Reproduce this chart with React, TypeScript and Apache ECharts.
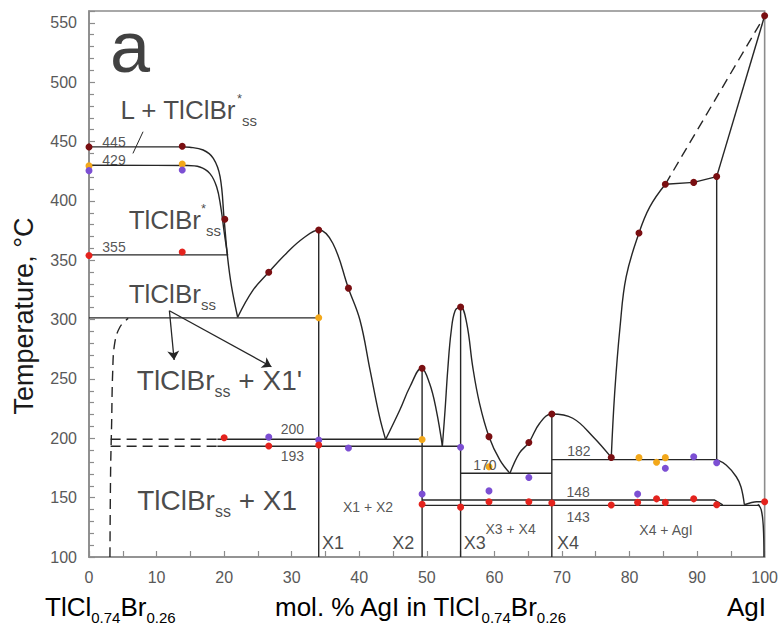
import React, { useEffect, useRef } from 'react';
import * as echarts from 'echarts';

const FONT = '"Liberation Sans", Arial, Helvetica, sans-serif';
const LINE = '#262626';
const AXIS = '#8c8c8c';

// ---- axis ticks ----
const xTicks = [0, 10, 20, 30, 40, 50, 60, 70, 80, 90, 100];
const yTicks = [100, 150, 200, 250, 300, 350, 400, 450, 500, 550];

// ---- boundary curves (mol.% AgI, °C) ----
const upperCurve = [[0, 445.5], [13.8, 445.5], [14.9, 445.2], [16.9, 442.9], [18.4, 435.9], [19.4, 420.4], [20.0, 384.5], [20.5, 353], [21.1, 327.7], [22.0, 302]];
const lowerCurve = [[0, 430], [14.5, 429.8], [16.4, 428.6], [17.9, 423], [18.9, 411.7], [19.5, 395], [20.0, 374], [20.5, 354.5]];
const line355 = [[0, 354.5], [20.6, 354.5]];
const line301 = [[0, 301.5], [34, 301.5]];
const domeX1 = [[22, 302], [24.3, 325], [26.6, 339.9], [29.2, 355.8], [31.7, 368.5], [34, 375.5], [36.1, 364.1], [38.4, 326.3], [40.1, 299.7], [41.6, 257.5], [43.0, 218.2], [43.9, 199]];
const domeX2 = [[43.9, 199], [46.0, 223.8], [47.5, 243.4], [49.2, 259], [50.4, 246.3], [51.4, 223.8], [52.3, 193.5]];
const domeX3 = [[52.3, 193.5], [52.7, 223.8], [53.1, 258], [53.6, 290], [54.2, 307.7], [55.0, 310.6], [55.9, 297], [56.8, 260], [57.8, 229.5], [59.2, 201.4], [60.8, 181.8], [62.3, 170.5]];
const domeX4 = [[62.3, 170.5], [63.7, 187.5], [65.1, 196.4], [66.7, 212.7], [68.5, 220.5], [71.6, 216.9], [74.6, 201.4], [77.3, 183.9]];
const agiLiquidus = [[77.3, 183.9], [77.8, 238], [78.6, 294], [79.5, 336], [81.4, 373], [83.0, 395], [85.3, 414]];
const line415 = [[85.3, 414], [89.5, 415.6], [92.9, 420.5]];
const lineTop = [[92.9, 420.5], [100, 556]];
const dashTop = [[85.3, 414], [100, 556]];
const vertX1 = [[34, 375.5], [34, 100]];
const vertX2 = [[49.3, 259], [49.3, 100]];
const vertX3 = [[55, 310.6], [55, 100]];
const vertX4 = [[68.5, 220.5], [68.5, 100]];
const vert93 = [[92.9, 420.5], [92.9, 182]];
const line200 = [[19, 199.2], [49.3, 199.2]];
const dash200 = [[3.2, 199.2], [19, 199.2]];
const line193 = [[19, 193.3], [55, 193.3]];
const dash193 = [[3.2, 193.3], [19, 193.3]];
const line182 = [[68.5, 182], [92.9, 182]];
const curve182 = [[92.9, 182], [94.3, 177.5], [95.8, 167.6], [96.5, 159], [97.0, 144]];
const line170 = [[55, 170.5], [68.5, 170.5]];
const line148 = [[49.3, 148], [92.6, 148], [93.8, 144]];
const line143 = [[49.3, 143.5], [99.3, 143.5]];
const rise146 = [[97.0, 144], [98.8, 146.6], [100, 146.6]];
const agiSolvus = [[99.0, 144.4], [99.5, 139.6], [99.8, 125.5], [99.9, 100]];
const dashSolvus = [[3.1, 100], [3.2, 173], [3.35, 212.6], [3.5, 254.7], [3.8, 280], [4.6, 294], [5.8, 301]];
const leader = [[8.0, 458.3], [6.5, 440]];
const arrows = [[[11.9, 307.5], [12.6, 266]], [[11.9, 307.5], [27.0, 260.3]]];

// ---- experimental points ----
const darkRedPts = [[0, 445.5], [13.8, 446], [20.1, 384.5], [26.6, 339.9], [34, 375.5], [38.4, 326.5], [49.3, 259], [55, 310.6], [59.2, 201.4], [65.1, 196.4], [68.5, 220.5], [77.3, 183.9], [81.4, 373], [85.3, 414], [89.5, 415.6], [92.9, 420.5], [100, 556]];
const orangePts = [[0, 429.5], [13.8, 431], [34, 301.5], [49.3, 199], [59.2, 176], [81.4, 183.7], [84.0, 179.8], [85.3, 183.7]];
const purplePts = [[0, 425.5], [13.8, 426], [26.6, 201], [34, 198.6], [38.4, 191.8], [55, 192.5], [49.3, 153], [59.2, 155.7], [65.1, 167], [81.2, 153], [85.3, 174.7], [89.5, 184.5], [92.9, 179.4]];
const redPts = [[0, 354], [13.8, 357], [20, 200.5], [26.6, 193.5], [34, 194.3], [49.3, 144.5], [55, 142], [59.2, 146.5], [65.1, 146.5], [68.5, 145.5], [77.3, 143.8], [81.2, 146], [84, 149], [85.3, 146], [89.5, 149], [92.9, 144], [100, 146.6]];

// ---- annotations [text, x, y] ----
const smallLabels: [string, number, number][] = [
  ['445', 3.7, 449.8], ['429', 3.7, 434.5], ['355', 3.7, 361], ['200', 30.1, 208], ['193', 30.1, 185],
  ['170', 58.6, 177.5], ['182', 72.5, 189.5], ['148', 72.4, 154.5], ['143', 72.4, 133.5],
  ['X1 + X2', 41.3, 142], ['X3 + X4', 62.4, 124], ['X4 + AgI', 85.4, 123],
];
const phaseLabels: [string, number, number][] = [['X1', 36.1, 112], ['X2', 46.5, 112], ['X3', 57.1, 112], ['X4', 70.9, 112]];
const bigLabels: [string, number, number, number][] = [
  ['{m|L + TlClBr}{sp|*}{sb|ss}', 4.6, 476.6, 26],
  ['{m|TlClBr}{sp|*}{sb|ss}', 5.8, 384, 26],
  ['{m|TlClBr}{sb|ss}', 5.8, 321.6, 26],
  ["{m|TlClBr}{sb|ss}{m| + X1'}", 7.0, 249, 28],
  ['{m|TlClBr}{sb|ss}{m| + X1}', 7.05, 147.3, 28],
];
const panelLabel: [string, number, number] = ['a', 6.06, 529.5];

function richFor(S: number) {
  return {
    m: { fontSize: S, lineHeight: S + 10, color: '#1a1a1a', fontFamily: FONT },
    sb: { fontSize: Math.round(S * 0.58), lineHeight: Math.round(S * 0.58), verticalAlign: 'bottom', color: '#1a1a1a', fontFamily: FONT },
    sp: { fontSize: Math.round(S * 0.5), lineHeight: Math.round(S * 0.5), verticalAlign: 'top', color: '#1a1a1a', fontFamily: FONT },
  };
}

const ln = (data: number[][], opt: { smooth?: number; dash?: boolean; width?: number } = {}) => ({
  type: 'line',
  data,
  symbol: 'none',
  showSymbol: false,
  clip: false,
  silent: true,
  smooth: opt.smooth ?? false,
  lineStyle: { color: LINE, width: opt.width ?? 1.4, type: opt.dash ? [10, 6] : 'solid' },
  z: 2,
});

const pts = (data: number[][], color: string) => ({
  type: 'scatter',
  data,
  symbolSize: 7,
  clip: false,
  silent: true,
  itemStyle: { color, opacity: 1 },
  z: 5,
});

export default function App() {
  const ref = useRef<HTMLDivElement>(null);
  useEffect(() => {
    const chart = echarts.init(ref.current!, null, { renderer: 'svg' });

    const labelData: any[] = [];
    smallLabels.forEach(([t, x, y]) =>
      labelData.push({ value: [x, y], label: { show: true, position: 'inside', formatter: t, fontSize: 14, color: '#2a2a2a', fontFamily: FONT } })
    );
    phaseLabels.forEach(([t, x, y]) =>
      labelData.push({ value: [x, y], label: { show: true, position: 'inside', formatter: t, fontSize: 18, color: '#1a1a1a', fontFamily: FONT } })
    );
    bigLabels.forEach(([t, x, y, s]) =>
      labelData.push({ value: [x, y], label: { show: true, position: 'right', distance: 0, formatter: t, rich: richFor(s) } })
    );
    labelData.push({ value: [panelLabel[1], panelLabel[2]], label: { show: true, position: 'inside', formatter: panelLabel[0], fontSize: 72, color: '#111', fontFamily: FONT } });

    const axRich = richFor(26);

    const option: any = {
      animation: false,
      textStyle: { fontFamily: FONT },
      grid: { left: 89, right: 16, top: 11, bottom: 75, show: true, borderColor: AXIS, borderWidth: 1.6, backgroundColor: 'transparent' },
      xAxis: {
        type: 'value', min: xTicks[0], max: xTicks[xTicks.length - 1], interval: 10,
        axisLine: { show: true, lineStyle: { color: AXIS, width: 1.6 } },
        axisTick: { show: true, inside: true, length: 6, lineStyle: { color: AXIS, width: 1.2 } },
        minorTick: { show: true, splitNumber: 2, length: 6, lineStyle: { color: AXIS, width: 1.2 } },
        axisLabel: { fontSize: 16, color: '#595959', margin: 12, fontFamily: FONT, formatter: (v: number) => (xTicks.includes(v) ? String(v) : '') },
        splitLine: { show: false },
      },
      yAxis: {
        type: 'value', min: 100, max: 560, interval: 50,
        axisLine: { show: true, lineStyle: { color: AXIS, width: 1.6 } },
        axisTick: { show: true, inside: true, length: 6, lineStyle: { color: AXIS, width: 1.2 } },
        minorTick: { show: true, splitNumber: 5, length: 5, lineStyle: { color: AXIS, width: 1.2 } },
        axisLabel: { fontSize: 16, color: '#595959', margin: 12, fontFamily: FONT, formatter: (v: number) => (yTicks.includes(v) ? String(v) : '') },
        splitLine: { show: false },
      },
      graphic: [
        { type: 'text', x: 24, y: 316, rotation: Math.PI / 2, style: { text: 'Temperature, °C', fontSize: 27, fontFamily: FONT, fill: '#1a1a1a', align: 'center', verticalAlign: 'middle' } },
        { type: 'text', x: 45, y: 607, style: { text: '{m|TlCl}{sb|0.74}{m|Br}{sb|0.26}', rich: axRich, align: 'left', verticalAlign: 'middle' } },
        { type: 'text', x: 275, y: 607, style: { text: '{m|mol. % AgI in TlCl}{sb|0.74}{m|Br}{sb|0.26}', rich: axRich, align: 'left', verticalAlign: 'middle' } },
        { type: 'text', x: 727, y: 607, style: { text: '{m|AgI}', rich: axRich, align: 'left', verticalAlign: 'middle' } },
      ],
      series: [
        ln(upperCurve, { smooth: 0.4 }),
        ln(lowerCurve, { smooth: 0.4 }),
        ln(line355), ln(line301),
        ln(domeX1, { smooth: 0.4 }), ln(domeX2, { smooth: 0.4 }), ln(domeX3, { smooth: 0.4 }), ln(domeX4, { smooth: 0.4 }),
        ln(agiLiquidus, { smooth: 0.4 }),
        ln(line415), ln(lineTop), ln(dashTop, { dash: true }),
        ln(vertX1), ln(vertX2), ln(vertX3), ln(vertX4), ln(vert93),
        ln(line200), ln(dash200, { dash: true }), ln(line193), ln(dash193, { dash: true }),
        ln(line182), ln(curve182, { smooth: 0.4 }), ln(line170), ln(line148), ln(line143),
        ln(rise146, { smooth: 0.3 }), ln(agiSolvus, { smooth: 0.4 }),
        ln(dashSolvus, { smooth: 0.4, dash: true }),
        ln(leader, { width: 1 }),
        {
          type: 'line', data: [], silent: true,
          markLine: {
            silent: true, symbol: ['none', 'arrow'], symbolSize: 9, label: { show: false },
            lineStyle: { color: LINE, width: 1.3, type: 'solid' },
            data: arrows.map(([a, b]) => [{ coord: a }, { coord: b }]),
          },
        },
        pts(darkRedPts, '#7a0f12'),
        pts(orangePts, '#f3a81a'),
        pts(purplePts, '#7c4fd3'),
        pts(redPts, '#e4231d'),
        { type: 'scatter', data: labelData, symbolSize: 1, itemStyle: { color: 'transparent' }, silent: true, clip: false, z: 10 },
      ],
    };
    chart.setOption(option);
    return () => chart.dispose();
  }, []);
  return <div ref={ref} style={{ position: 'fixed', left: 0, top: 0, width: 781, height: 632, background: '#fff' }} />;
}
